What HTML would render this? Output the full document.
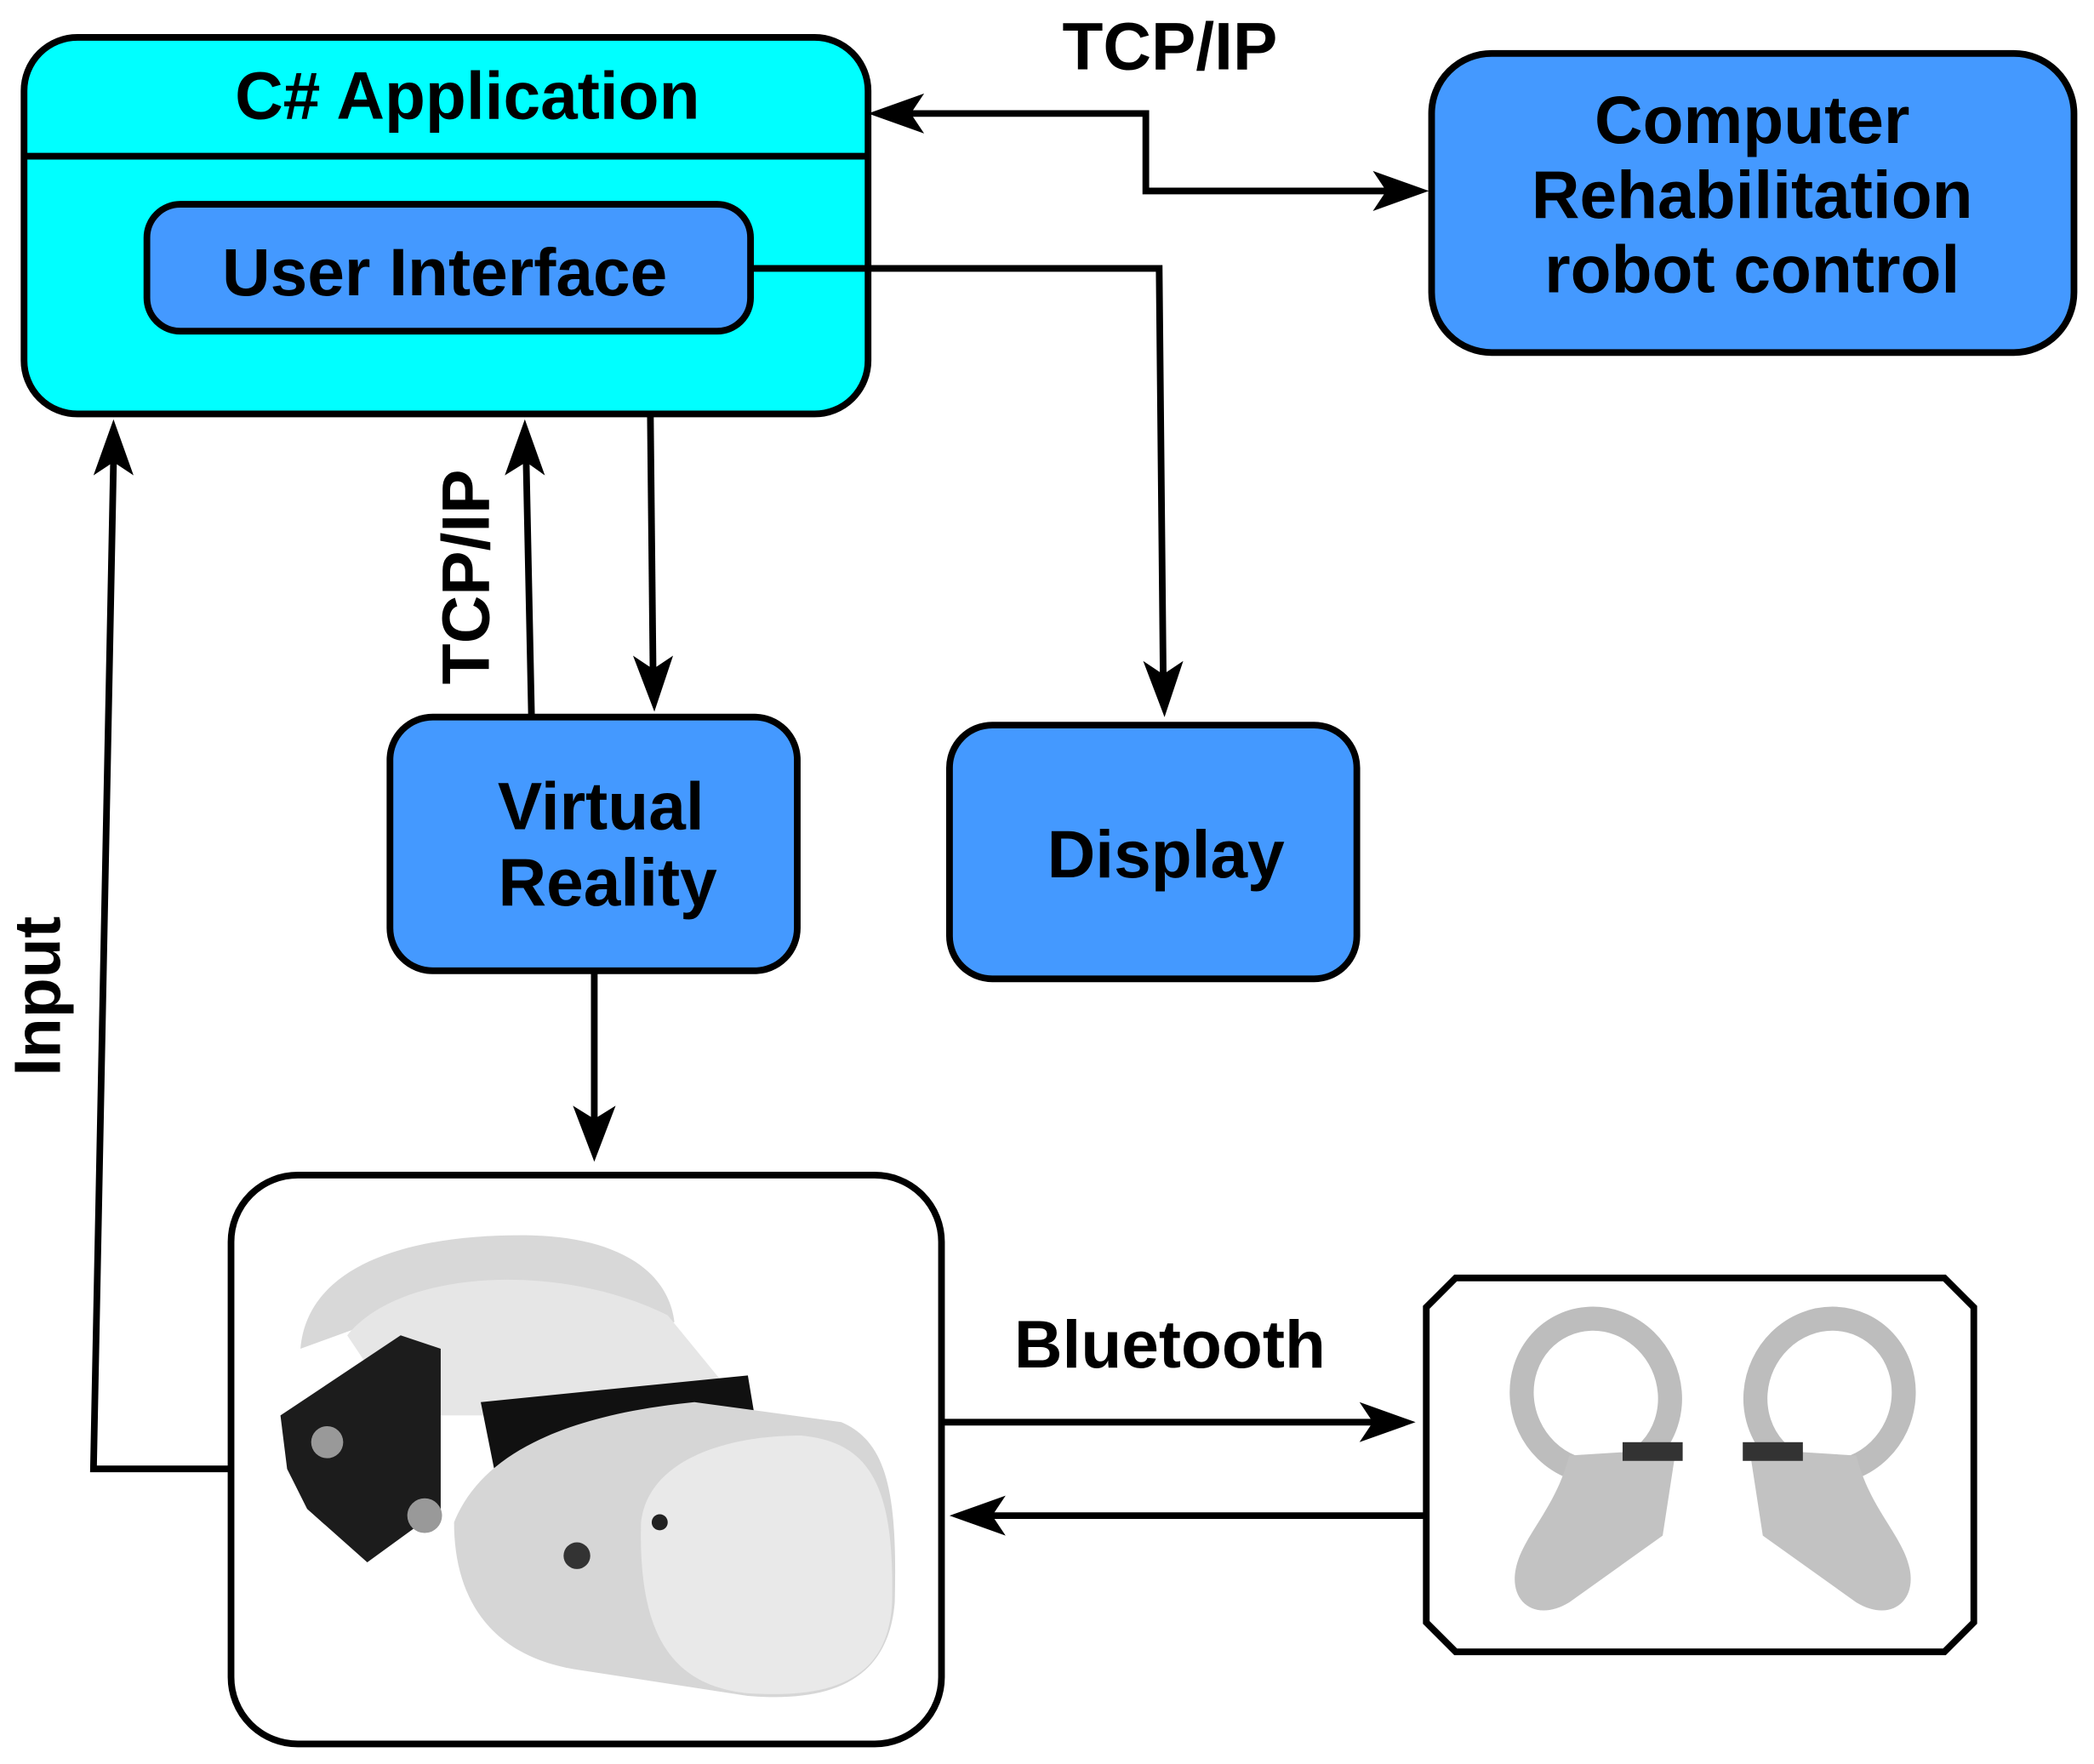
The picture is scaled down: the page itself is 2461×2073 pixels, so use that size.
<!DOCTYPE html>
<html><head><meta charset="utf-8"><style>
html,body{margin:0;padding:0;background:#fff;}
svg{display:block;}
text{font-family:"Liberation Sans",Arial,sans-serif;font-weight:bold;fill:#000;}
</style></head><body>
<svg width="2461" height="2073" viewBox="0 0 1568 1321" preserveAspectRatio="none" xmlns="http://www.w3.org/2000/svg">
<g stroke="#000" stroke-width="5" fill="none">
<rect x="18" y="28" width="632" height="282" rx="40" fill="#00FFFF"/>
<line x1="18" y1="117" x2="650" y2="117"/>
<rect x="110" y="153" width="452" height="95" rx="25" fill="#4499FF"/>
<rect x="1072" y="40" width="481" height="224" rx="45" fill="#4499FF"/>
<rect x="292" y="537" width="305" height="190" rx="32" fill="#4499FF"/>
<rect x="711" y="543" width="305" height="190" rx="32" fill="#4499FF"/>
<rect x="173" y="880" width="532" height="426" rx="50" fill="#fff"/>
<polygon points="1090,957 1456,957 1478,979 1478,1215 1456,1237 1090,1237 1068,1215 1068,979" fill="#fff"/>
<polyline points="680,85 858,85 858,143 1040,143"/>
<polyline points="562,201 868,201 871,505"/>
<line x1="487" y1="310" x2="489" y2="502"/>
<line x1="398" y1="537" x2="394" y2="345"/>
<line x1="445" y1="727" x2="445" y2="840"/>
<polyline points="173,1100 70,1100 85,345"/>
<line x1="705" y1="1065" x2="1030" y2="1065"/>
<line x1="1068" y1="1135" x2="742" y2="1135"/>
</g>
<g fill="#000">
<polygon points="650,85 692,70 682,85 692,100"/>
<polygon points="1070,143 1028,128 1038,143 1028,158"/>
<polygon points="872,537 856,495 871,505 886,495"/>
<polygon points="490,533 474,491 489,501 504,491"/>
<polygon points="393,314 378,356 394,346 408,356"/>
<polygon points="445,870 429,828 445,838 461,828"/>
<polygon points="85,314 70,356 85,346 100,356"/>
<polygon points="1060,1065 1018,1050 1028,1065 1018,1080"/>
<polygon points="711,1135 753,1120 743,1135 753,1150"/>
</g>
<text x="350" y="89" font-size="50" text-anchor="middle">C# Application</text>
<text x="333" y="221" font-size="50" text-anchor="middle">User Interface</text>
<text x="1312" y="107" font-size="50" text-anchor="middle">Computer</text>
<text x="1312" y="163" font-size="50" text-anchor="middle">Rehabilitation</text>
<text x="1312" y="219" font-size="50" text-anchor="middle">robot control</text>
<text x="876" y="52" font-size="50" text-anchor="middle">TCP/IP</text>
<text x="450" y="621" font-size="50" text-anchor="middle">Virtual</text>
<text x="455" y="678" font-size="50" text-anchor="middle">Reality</text>
<text x="873" y="657" font-size="50" text-anchor="middle">Display</text>
<text x="876" y="1024" font-size="50" text-anchor="middle">Bluetooth</text>
<text transform="translate(366,432) rotate(-90)" font-size="50" text-anchor="middle">TCP/IP</text>
<text transform="translate(45,746) rotate(-90)" font-size="49" text-anchor="middle">Input</text>
<g>
<path d="M225,1010 C230,950 300,925 390,925 C460,925 500,950 505,990 L470,1000 C430,960 330,955 280,990 Z" fill="#d8d8d8"/>
<path d="M260,1000 C300,950 420,945 500,985 L545,1040 L420,1060 L300,1060 Z" fill="#e6e6e6"/>
<path d="M210,1060 L300,1000 L330,1010 L330,1130 L275,1170 L230,1130 L215,1100 Z" fill="#1c1c1c"/>
<path d="M360,1050 L560,1030 L570,1090 L380,1150 Z" fill="#111"/>
<path d="M340,1140 C360,1090 420,1060 520,1050 L630,1065 C665,1080 672,1120 670,1200 C665,1260 620,1275 560,1270 L430,1250 C370,1240 340,1200 340,1140 Z" fill="#d6d6d6"/>
<path d="M480,1140 C485,1095 540,1075 600,1075 C650,1080 670,1110 668,1200 C665,1260 620,1272 560,1268 C500,1262 478,1220 480,1140 Z" fill="#e9e9e9"/>
<circle cx="245" cy="1080" r="12" fill="#999"/>
<circle cx="318" cy="1135" r="13" fill="#999"/>
<circle cx="432" cy="1165" r="10" fill="#333"/>
<circle cx="494" cy="1140" r="6" fill="#222"/>
</g>
<g fill="none" stroke="#bdbdbd" stroke-width="18">
<ellipse cx="1195" cy="1045" rx="55" ry="58" transform="rotate(-25 1195 1045)"/>
<ellipse cx="1370" cy="1045" rx="55" ry="58" transform="rotate(25 1370 1045)"/>
</g>
<g fill="#c2c2c2">
<path d="M1175,1090 L1255,1085 L1245,1150 L1175,1200 C1150,1215 1130,1200 1135,1175 C1140,1150 1165,1130 1175,1090 Z"/>
<path d="M1390,1090 L1310,1085 L1320,1150 L1390,1200 C1415,1215 1435,1200 1430,1175 C1425,1150 1400,1130 1390,1090 Z"/>
<rect x="1215" y="1080" width="45" height="14" fill="#333"/>
<rect x="1305" y="1080" width="45" height="14" fill="#333"/>
</g>
</svg>
</body></html>
